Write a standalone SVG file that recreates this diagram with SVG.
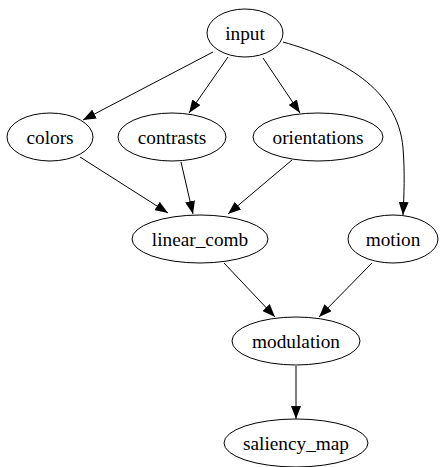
<svg xmlns="http://www.w3.org/2000/svg" width="440" height="467" viewBox="0 0 440 467">
<style>
.n ellipse{fill:none;stroke:#000;stroke-width:1}
.n text{font-family:'Liberation Serif','Times New Roman',serif;font-size:19.3px;fill:#000;text-anchor:middle}
.e path{fill:none;stroke:#000;stroke-width:1;marker-end:url(#arr)}
</style>
<defs>
<marker id="arr" viewBox="0 0 13 10" refX="13" refY="5" markerWidth="13" markerHeight="10" markerUnits="userSpaceOnUse" orient="auto">
<path d="M0,0 L13,5 L0,10 z" fill="#000"/>
</marker>
</defs>
<rect width="440" height="467" fill="#fff"/>
<g id="edges" class="e">
<path d="M213,52 L83,120"/>
<path d="M228,57 L189,113"/>
<path d="M263,58 L300,113"/>
<path d="M283,42 C340,58 398,88 403,148 C405,172 404,196 403,215"/>
<path d="M80,157 L168,213"/>
<path d="M181,162 L193,214"/>
<path d="M292,160 L228,214"/>
<path d="M224,263 L275,317"/>
<path d="M372,263 L319,317"/>
<path d="M296,366 L296,419"/>
</g>
<g id="input" class="n"><ellipse cx="245" cy="33" rx="38" ry="24"/><text x="245" y="39.5">input</text></g>
<g id="colors" class="n"><ellipse cx="50" cy="137" rx="43" ry="24"/><text x="50" y="143.5">colors</text></g>
<g id="contrasts" class="n"><ellipse cx="172" cy="137" rx="54" ry="24"/><text x="172" y="143.5">contrasts</text></g>
<g id="orientations" class="n"><ellipse cx="318" cy="137" rx="65" ry="24"/><text x="318" y="143.5">orientations</text></g>
<g id="linear_comb" class="n"><ellipse cx="200" cy="239" rx="68" ry="24"/><text x="200" y="245.5">linear_comb</text></g>
<g id="motion" class="n"><ellipse cx="393" cy="239" rx="45" ry="24"/><text x="393" y="245.5">motion</text></g>
<g id="modulation" class="n"><ellipse cx="296" cy="341" rx="64" ry="24"/><text x="296" y="347.5">modulation</text></g>
<g id="saliency_map" class="n"><ellipse cx="296" cy="443" rx="72" ry="24"/><text x="296" y="449.5">saliency_map</text></g>
</svg>
